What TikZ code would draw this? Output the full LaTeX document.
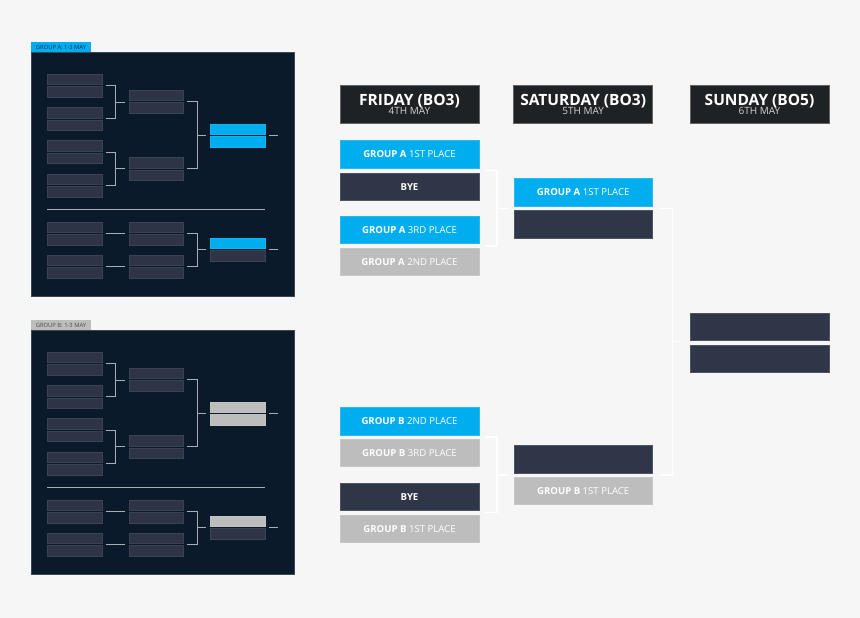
\documentclass[tikz,border=0pt]{standalone}
\usepackage{fontspec}
\setmainfont{Open Sans}
\usetikzlibrary{calc}
\definecolor{bg}{HTML}{F6F6F6}
\definecolor{cblue}{HTML}{00AEEF}
\definecolor{cgray}{HTML}{BDBDBD}
\definecolor{cdark}{HTML}{2E3648}
\definecolor{chead}{HTML}{1F2224}
\definecolor{cpanel}{HTML}{0B1A2A}
\definecolor{pdark}{HTML}{2C3446}
\definecolor{pline}{HTML}{A9AEB6}
\definecolor{tabtxtA}{HTML}{0D2B45}
\definecolor{tabtxtB}{HTML}{4A4A4A}
\tikzset{
  pbox/.style={rectangle,inner sep=0pt,outer sep=0pt,minimum width=54.5pt,minimum height=10.5pt,draw=white!7!#1,line width=0.4pt,fill=#1},
  panelbox/.style={rectangle,inner sep=0pt,outer sep=0pt,fill=cpanel,draw=cpanel!80!white,line width=0.6pt,minimum width=263pt,minimum height=244pt},
  tabbox/.style={rectangle,inner sep=0pt,outer sep=0pt,minimum width=60pt,minimum height=10pt,font=\fontsize{5.8}{6}\selectfont},
  plin/.style={draw=pline,line width=1.2pt},
  wlin/.style={draw=white,line width=1.3pt},
  rbox/.style={rectangle,inner sep=0pt,outer sep=0pt,minimum width=139pt,minimum height=27.5pt,text=white,font=\fontsize{9.6}{10}\selectfont,fill=#1,draw=#1!85!white,line width=0.6pt},
  hbox/.style={rectangle,inner sep=0pt,outer sep=0pt,minimum width=139pt,minimum height=38.3pt,fill=chead,draw=chead!70!white,line width=0.6pt},
  htitle/.style={anchor=base,inner sep=0pt,text=white,font=\fontsize{15.5}{15}\selectfont\bfseries},
  hsub/.style={anchor=base,inner sep=0pt,text=white!82!black,font=\fontsize{10}{9}\selectfont},
}
\newcommand\pairbx[5]{%
  \node[pbox=#4] (#1a) at (#2,#3+5.25) {};
  \node[pbox=#5] (#1b) at (#2,#3+17.75) {};
  \coordinate (#1r) at ($(#1a.south east)!.5!(#1b.north east)$);
  \coordinate (#1l) at ($(#1a.south west)!.5!(#1b.north west)$);
}
\newcommand\brk[3]{%
  \draw[plin] ([xshift=4pt]#1r) -- ++(10,0) |- ([xshift=4pt]#2r);
  \coordinate (#1v) at ($([xshift=14pt]#1r)!.5!([xshift=14pt]#2r)$);
  \coordinate (#1t) at ([xshift=-4pt]#3l);
  \draw[plin] (#1v) -- (#1v -| #1t);
}
\newcommand\grp[6]{% prefix, dy, accent, tab label, tab text colour, lower accent
  \node[panelbox] (#1panel) at (162.5,174+#2) {};
  \node[tabbox,fill=#3,text=#5] (#1tab) at (61,47+#2) {#4};
  \pairbx{#1a1}{74.5}{74+#2}{pdark}{pdark}
  \pairbx{#1a2}{74.5}{107.3+#2}{pdark}{pdark}
  \pairbx{#1a3}{74.5}{140.6+#2}{pdark}{pdark}
  \pairbx{#1a4}{74.5}{173.9+#2}{pdark}{pdark}
  \pairbx{#1b1}{156}{90+#2}{pdark}{pdark}
  \pairbx{#1b2}{156}{157.3+#2}{pdark}{pdark}
  \pairbx{#1c1}{237.5}{124+#2}{#6}{#6}
  \brk{#1a1}{#1a2}{#1b1}
  \brk{#1a3}{#1a4}{#1b2}
  \brk{#1b1}{#1b2}{#1c1}
  \draw[plin] ([xshift=4pt]#1c1r) -- ++(9.5,0) coordinate (#1e1);
  \coordinate (#1d1) at (47,209.3+#2);
  \coordinate (#1d2) at (264.7,209.3+#2);
  \draw[plin] (#1d1) -- (#1d2);
  \pairbx{#1l1}{74.5}{221.7+#2}{pdark}{pdark}
  \pairbx{#1l2}{74.5}{255+#2}{pdark}{pdark}
  \pairbx{#1m1}{156}{221.7+#2}{pdark}{pdark}
  \pairbx{#1m2}{156}{255+#2}{pdark}{pdark}
  \pairbx{#1n1}{237.5}{237.7+#2}{#6}{pdark}
  \draw[plin] ([xshift=4pt]#1l1r) -- ([xshift=-4pt]#1m1l);
  \draw[plin] ([xshift=4pt]#1l2r) -- ([xshift=-4pt]#1m2l);
  \brk{#1m1}{#1m2}{#1n1}
  \draw[plin] ([xshift=4pt]#1n1r) -- ++(9.5,0) coordinate (#1e2);
}
\begin{document}
\begin{tikzpicture}[x=1pt,y=-1pt]
\useasboundingbox[fill=bg] (0,0) rectangle (860,618);
% group panels
\grp{A}{0}{cblue}{GROUP A: 1-3 MAY}{tabtxtA}{cblue}
\grp{B}{278}{cgray}{GROUP B: 1-3 MAY}{tabtxtB}{cgray}
% headers
\node[hbox] (hF) at (409.5,104.2) {};
\node[htitle] (hFt) at (409.5,105.5) {FRIDAY (BO3)};
\node[hsub] (hFs) at (409.5,114.6) {4TH MAY};
\node[hbox] (hS) at (583.2,104.2) {};
\node[htitle] (hSt) at (583.2,105.5) {SATURDAY (BO3)};
\node[hsub] (hSs) at (583.2,114.6) {5TH MAY};
\node[hbox] (hU) at (759.5,104.2) {};
\node[htitle] (hUt) at (759.5,105.5) {SUNDAY (BO5)};
\node[hsub] (hUs) at (759.5,114.6) {6TH MAY};
% friday
\node[rbox=cblue] (fA1) at (409.5,154.5) {\textbf{GROUP A} 1ST PLACE};
\node[rbox=cdark] (fByeA) at (409.5,186.7) {\textbf{BYE}};
\node[rbox=cblue] (fA3) at (409.5,230) {\textbf{GROUP A} 3RD PLACE};
\node[rbox=cgray] (fA2) at (409.5,262) {\textbf{GROUP A} 2ND PLACE};
\node[rbox=cblue] (fB2) at (409.5,421.2) {\textbf{GROUP B} 2ND PLACE};
\node[rbox=cgray] (fB3) at (409.5,453) {\textbf{GROUP B} 3RD PLACE};
\node[rbox=cdark] (fByeB) at (409.5,496.7) {\textbf{BYE}};
\node[rbox=cgray] (fB1) at (409.5,528.7) {\textbf{GROUP B} 1ST PLACE};
% saturday
\node[rbox=cblue,minimum width=138.3pt] (sA1) at (583.2,192.2) {\textbf{GROUP A} 1ST PLACE};
\node[rbox=cdark,minimum width=138.3pt] (sA2) at (583.2,224.5) {};
\node[rbox=cdark,minimum width=138.3pt] (sB2) at (583.2,459.2) {};
\node[rbox=cgray,minimum width=138.3pt] (sB1) at (583.2,490.8) {\textbf{GROUP B} 1ST PLACE};
% sunday
\node[rbox=cdark,minimum height=26.7pt] (u1) at (759.5,326.7) {};
\node[rbox=cdark,minimum height=27.3pt] (u2) at (759.5,358.7) {};
% gap coordinates
\coordinate (gA1) at ($(fA1.south east)!.5!(fByeA.north east)$);
\coordinate (gA2) at ($(fA3.south east)!.5!(fA2.north east)$);
\coordinate (gB1) at ($(fB2.south east)!.5!(fB3.north east)$);
\coordinate (gB2) at ($(fByeB.south east)!.5!(fB1.north east)$);
\coordinate (gSA) at ($(sA1.south west)!.5!(sA2.north west)$);
\coordinate (gSB) at ($(sB2.south west)!.5!(sB1.north west)$);
\coordinate (gSAr) at ($(sA1.south east)!.5!(sA2.north east)$);
\coordinate (gSBr) at ($(sB2.south east)!.5!(sB1.north east)$);
\coordinate (gU) at ($(u1.south west)!.5!(u2.north west)$);
% white brackets
\draw[wlin] ([xshift=6pt]gA1) -- ++(12,0) |- ([xshift=6pt]gA2);
\coordinate (vA) at ($([xshift=18pt]gA1)!.5!([xshift=18pt]gA2)$);
\coordinate (tA) at ([xshift=-6pt]gSA);
\draw[wlin] (vA) -- (vA -| tA);
\draw[wlin] ([xshift=6pt]gB1) -- ++(12,0) |- ([xshift=6pt]gB2);
\coordinate (vB) at ($([xshift=18pt]gB1)!.5!([xshift=18pt]gB2)$);
\coordinate (tB) at ([xshift=-6pt]gSB);
\draw[wlin] (vB) -- (vB -| tB);
\draw[wlin] ([xshift=8pt]gSAr) -- ++(12,0) |- ([xshift=8pt]gSBr);
\coordinate (vS) at ($([xshift=20pt]gSAr)!.5!([xshift=20pt]gSBr)$);
\coordinate (tS) at ([xshift=-8pt]gU);
\draw[wlin] (vS) -- (vS -| tS);
\end{tikzpicture}
\end{document}
